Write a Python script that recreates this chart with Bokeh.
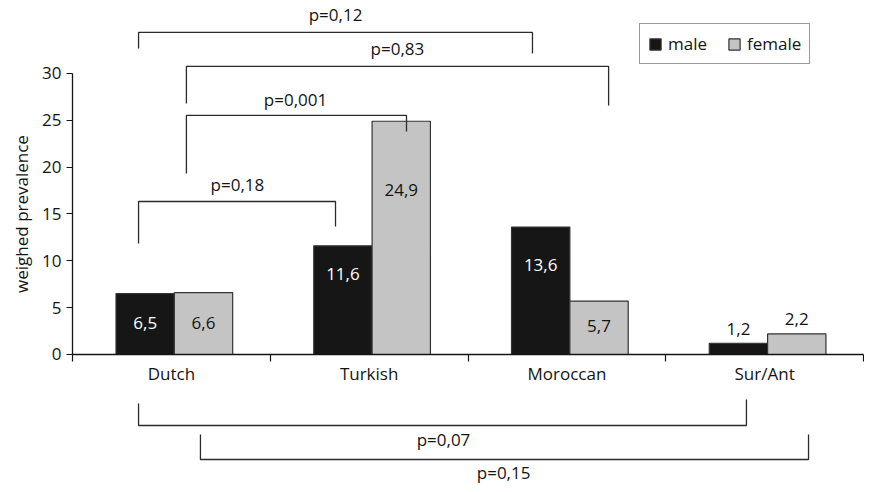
from bokeh.plotting import figure
from bokeh.models import ColumnDataSource, Range1d, FixedTicker, Legend, LegendItem
from bokeh.transform import dodge
from bokeh.core.properties import value
from bokeh.embed import file_html
from bokeh.resources import INLINE

# ---------------- data ----------------
categories = ["Dutch", "Turkish", "Moroccan", "Sur/Ant"]
male = [6.5, 11.6, 13.6, 1.2]
female = [6.6, 24.9, 5.7, 2.2]
male_labels = ["6,5", "11,6", "13,6", "1,2"]
female_labels = ["6,6", "24,9", "5,7", "2,2"]
y_ticks = [0, 5, 10, 15, 20, 25, 30]

# p-values of the comparisons
p_labels = ["p=0,18", "p=0,001", "p=0,83", "p=0,12", "p=0,07", "p=0,15"]

# ---------------- placement (not data) ----------------
male_label_y = [3.31, 8.54, 9.50, 2.67]
female_label_y = [3.31, 17.61, 2.99, 3.74]
# bracket geometry: x_left, x_right, y_bar, y_left_end, y_right_end, text_x, text_y
bracket_geom = [
    (0.334, 1.330, 16.33, 11.85, 13.66, 0.834, 18.15),
    (0.576, 1.689, 25.52, 19.32, 23.81, 1.128, 27.22),
    (0.576, 2.711, 30.75, 26.80, 26.58, 1.643, 32.67),
    (0.334, 2.326, 34.38, 32.67, 32.13, 1.330, 36.30),
    (0.334, 3.408, -7.58, -5.23, -4.80, 1.876, -9.07),
    (0.647, 3.722, -11.21, -8.54, -8.54, 2.180, -12.60),
]

FONT = "Open Sans"
FS = "17px"
TXT = "#141414"
BAR_W = 0.295
OFF_M = -0.1325
OFF_F = 0.1625

centers = [i + 0.5 for i in range(len(categories))]

src = ColumnDataSource(dict(
    x=centers, male=male, female=female,
    male_labels=male_labels, female_labels=female_labels,
    male_label_y=male_label_y, female_label_y=female_label_y,
    male_color=["white" if ly < v else TXT for ly, v in zip(male_label_y, male)],
))

p = figure(width=864, height=484,
           x_range=Range1d(-0.3641, 4.005), y_range=Range1d(-13.88, 37.79),
           output_backend="svg", toolbar_location=None, min_border=0,
           outline_line_color=None)
p.xgrid.visible = False
p.ygrid.visible = False

r_male = p.vbar(x=dodge("x", OFF_M), top="male", width=BAR_W, bottom=0, source=src,
                fill_color="#161616", line_color="#333333", line_width=1.2)
r_female = p.vbar(x=dodge("x", OFF_F), top="female", width=BAR_W, bottom=0, source=src,
                  fill_color="#c3c4c3", line_color="#333333", line_width=1.2)

p.text(x=dodge("x", OFF_M), y="male_label_y", text="male_labels", source=src,
       text_color="male_color", text_font=value(FONT), text_font_size=FS,
       text_align="center", text_baseline="middle")
p.text(x=dodge("x", OFF_F), y="female_label_y", text="female_labels", source=src,
       text_color=TXT, text_font=value(FONT), text_font_size=FS,
       text_align="center", text_baseline="middle")

# brackets
xs, ys, tx, ty = [], [], [], []
for (xl, xr, yb, yl, yr, txx, tyy) in bracket_geom:
    xs.append([xl, xl, xr, xr])
    ys.append([yl, yb, yb, yr])
    tx.append(txx)
    ty.append(tyy)
p.multi_line(xs=xs, ys=ys, line_color="#2b2b2b", line_width=1.3)
p.text(x=tx, y=ty, text=p_labels, text_color=TXT, text_font=value(FONT),
       text_font_size=FS, text_align="center", text_baseline="middle")

# axes
yax = p.yaxis[0]
yax.fixed_location = 0
yax.bounds = (0, 30)
yax.ticker = FixedTicker(ticks=y_ticks, minor_ticks=[])
yax.major_tick_out = 6
yax.major_tick_in = 0
yax.minor_tick_out = 0
yax.minor_tick_in = 0
yax.axis_line_color = TXT
yax.axis_line_width = 1.3
yax.major_tick_line_color = TXT
yax.major_tick_line_width = 1.2
yax.major_label_text_font = FONT
yax.major_label_text_font_size = FS
yax.major_label_text_color = TXT
yax.major_label_standoff = 5
yax.axis_label = "weighed prevalence"
yax.axis_label_text_font = FONT
yax.axis_label_text_font_size = FS
yax.axis_label_text_font_style = "normal"
yax.axis_label_text_color = TXT
yax.axis_label_standoff = 6

xax = p.xaxis[0]
xax.fixed_location = 0
xax.bounds = (0, 4)
xax.ticker = FixedTicker(ticks=centers, minor_ticks=list(range(len(categories) + 1)))
xax.major_label_overrides = {c: n for c, n in zip(centers, categories)}
xax.major_tick_out = 0
xax.major_tick_in = 0
xax.minor_tick_out = 7
xax.minor_tick_in = 0
xax.minor_tick_line_color = TXT
xax.minor_tick_line_width = 1.2
xax.axis_line_color = TXT
xax.axis_line_width = 1.3
xax.major_label_text_font = FONT
xax.major_label_text_font_size = FS
xax.major_label_text_color = TXT
xax.major_label_standoff = 1

legend = Legend(items=[LegendItem(label="male", renderers=[r_male]),
                       LegendItem(label="female", renderers=[r_female])],
                orientation="horizontal", location=(639, 420),
                border_line_color="#333333", border_line_width=1.3,
                padding=8, margin=0, spacing=20, label_standoff=6,
                glyph_width=14, glyph_height=14, label_height=20,
                label_text_font=FONT, label_text_font_size=FS,
                label_text_color=TXT, background_fill_alpha=1.0)
p.add_layout(legend)

open("out.html", "w").write(file_html(p, INLINE))
